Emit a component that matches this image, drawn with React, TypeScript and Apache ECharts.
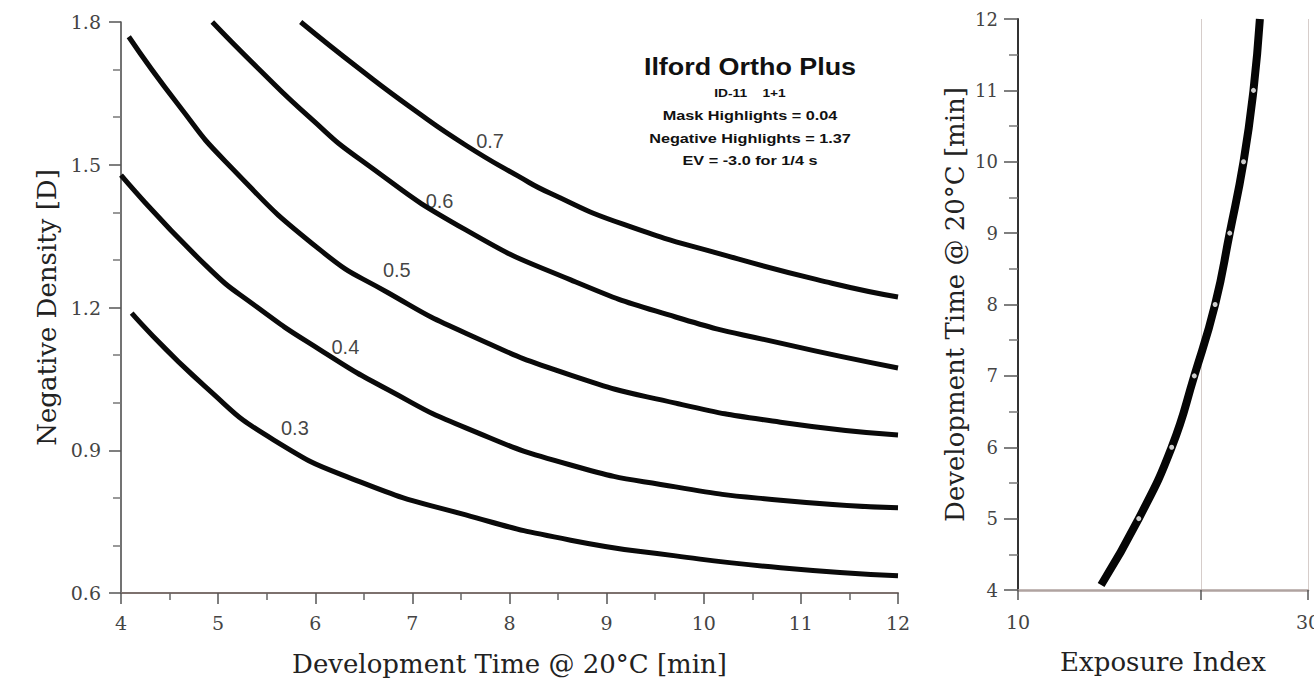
import React, { useEffect, useRef } from "react";
import * as echarts from "echarts";

// ---- Left chart: negative density vs development time, one curve per label ----
const curveNames = ["0.3", "0.4", "0.5", "0.6", "0.7"];
const time03 = [4.11, 4.87, 5.57, 6.47, 7.55, 8.63, 9.71, 10.79, 12.0];
const dens03 = [1.188, 1.033, 0.922, 0.833, 0.764, 0.711, 0.678, 0.653, 0.636];
const time04 = [4.0, 4.87, 5.4, 6.05, 6.75, 7.55, 8.63, 9.71, 10.79, 12.0];
const dens04 = [1.478, 1.289, 1.201, 1.111, 1.027, 0.947, 0.869, 0.823, 0.795, 0.779];
const time05 = [4.08, 4.59, 5.08, 6.05, 6.75, 7.55, 8.63, 9.71, 10.79, 12.0];
const dens05 = [1.769, 1.626, 1.506, 1.321, 1.231, 1.146, 1.058, 0.999, 0.959, 0.932];
const time06 = [4.94, 5.4, 5.94, 6.47, 7.55, 8.63, 9.71, 10.79, 12.0];
const dens06 = [1.8, 1.705, 1.6, 1.51, 1.363, 1.258, 1.18, 1.125, 1.073];
const time07 = [5.85, 6.47, 7.02, 7.55, 8.09, 8.42, 9.17, 10.25, 11.32, 12.0];
const dens07 = [1.8, 1.699, 1.615, 1.541, 1.476, 1.44, 1.375, 1.308, 1.251, 1.222];

// positions of the curve labels (in data units)
const labelTimes = [5.79, 6.31, 6.84, 7.28, 7.8];
const labelDens = [0.947, 1.117, 1.279, 1.424, 1.55];

// ---- Right chart: development time vs exposure index ----
const exposureIndex = [13.7, 15.8, 17.9, 19.5, 21.1, 22.3, 23.5, 24.4, 25.0];
const devTime = [4.07, 5, 6, 7, 8, 9, 10, 11, 12];

const eiTickValues = [10, 20, 30];
const eiLabelValues = [10, 30];

const titleLines = [
  "Ilford Ortho Plus",
  "ID-11    1+1",
  "Mask Highlights = 0.04",
  "Negative Highlights = 1.37",
  "EV = -3.0 for 1/4 s",
];

const SERIF = "'DejaVu Serif', 'Liberation Serif', serif";
const SANS = "'Liberation Sans', Arial, sans-serif";

const zip = (a: number[], b: number[]) => a.map((v, i) => [v, b[i]]);

export default function App() {
  const ref = useRef<HTMLDivElement>(null);
  useEffect(() => {
    if (!ref.current) return;
    const chart = echarts.init(ref.current, null, { renderer: "svg" });
    const curves = [
      zip(time03, dens03),
      zip(time04, dens04),
      zip(time05, dens05),
      zip(time06, dens06),
      zip(time07, dens07),
    ];
    const tickLabel = { fontFamily: SERIF, fontSize: 19, color: "#444" };
    const nameStyle = { fontFamily: SERIF, fontSize: 26, color: "#222" };

    const option: any = {
      animation: false,
      backgroundColor: "#ffffff",
      grid: [
        { left: 121, top: 22, width: 777, height: 571, containLabel: false, outerBoundsMode: "none" },
        { left: 1018, top: 19, width: 290, height: 571, containLabel: false, outerBoundsMode: "none" },
      ],
      xAxis: [
        {
          gridIndex: 0,
          type: "value",
          min: 4,
          max: 12,
          interval: 1,
          name: "Development Time @ 20°C [min]",
          nameLocation: "middle",
          nameGap: 58,
          nameTextStyle: nameStyle,
          axisLine: { show: true, onZero: false, lineStyle: { color: "#7d716e", width: 2 } },
          axisTick: { show: true, length: 11, lineStyle: { color: "#555", width: 1.5 } },
          minorTick: { show: true, splitNumber: 2, length: 7, lineStyle: { color: "#666", width: 1.5 } },
          axisLabel: { ...tickLabel, margin: 20 },
          splitLine: { show: false },
        },
        {
          gridIndex: 1,
          type: "log",
          logBase: 10,
          min: 10,
          max: 30,
          name: "Exposure Index",
          nameLocation: "middle",
          nameGap: 59,
          nameTextStyle: nameStyle,
          axisLine: { show: true, onZero: false, lineStyle: { color: "#b0a3a0", width: 2.5 } },
          axisTick: { show: true, length: 10, customValues: eiTickValues, lineStyle: { color: "#555", width: 1.5 } },
          axisLabel: { ...tickLabel, margin: 22, customValues: eiLabelValues, formatter: (v: number) => String(Math.round(v)) },
          splitLine: { show: true, lineStyle: { color: "#d6cdca", width: 1 } },
          minorTick: { show: false },
          minorSplitLine: { show: false },
        },
      ],
      yAxis: [
        {
          gridIndex: 0,
          type: "value",
          min: 0.6,
          max: 1.8,
          interval: 0.3,
          name: "Negative Density [D]",
          nameLocation: "middle",
          nameGap: 58,
          nameTextStyle: nameStyle,
          axisLine: { show: true, onZero: false, lineStyle: { color: "#444", width: 1.5 } },
          axisTick: { show: true, length: 12, lineStyle: { color: "#555", width: 1.5 } },
          minorTick: { show: true, splitNumber: 3, length: 8, lineStyle: { color: "#777", width: 1.5 } },
          axisLabel: { ...tickLabel, margin: 20, formatter: (v: number) => v.toFixed(1) },
          splitLine: { show: false },
        },
        {
          gridIndex: 1,
          type: "value",
          min: 4,
          max: 12,
          interval: 1,
          name: "Development Time @ 20°C [min]",
          nameLocation: "middle",
          nameGap: 50,
          nameTextStyle: nameStyle,
          axisLine: { show: true, onZero: false, lineStyle: { color: "#333", width: 2 } },
          axisTick: { show: true, length: 14, lineStyle: { color: "#555", width: 1.5 } },
          minorTick: { show: true, splitNumber: 2, length: 9, lineStyle: { color: "#777", width: 1.5 } },
          axisLabel: { ...tickLabel, fontSize: 18, margin: 20 },
          splitLine: { show: false },
        },
      ],
      series: [
        ...curves.map((data, i) => ({
          type: "line",
          name: curveNames[i],
          xAxisIndex: 0,
          yAxisIndex: 0,
          data,
          smooth: 0.55,
          showSymbol: false,
          lineStyle: { color: "#0a0a0a", width: 5 },
          z: 3,
        })),
        {
          type: "scatter",
          name: "curve labels",
          xAxisIndex: 0,
          yAxisIndex: 0,
          symbolSize: 0,
          data: labelTimes.map((t, i) => ({ name: curveNames[i], value: [t, labelDens[i]] })),
          label: {
            show: true,
            position: "inside",
            formatter: (p: any) => p.name,
            fontFamily: SANS,
            fontSize: 20,
            color: "#111",
          },
          z: 4,
        },
        {
          type: "line",
          name: "Exposure Index",
          xAxisIndex: 1,
          yAxisIndex: 1,
          data: zip(exposureIndex, devTime),
          smooth: 0.5,
          showSymbol: false,
          lineStyle: { color: "#050505", width: 8 },
          z: 3,
        },
        {
          type: "scatter",
          name: "EI points",
          xAxisIndex: 1,
          yAxisIndex: 1,
          symbol: "circle",
          symbolSize: 5,
          itemStyle: { color: "#ffffff" },
          data: zip(exposureIndex, devTime).filter((p) => Number.isInteger(p[1]) && p[1] > 4 && p[1] < 12),
          z: 5,
        },
      ],
      graphic: titleLines.map((t, i) => ({
        type: "text",
        x: 750,
        y: [67, 93, 116, 139, 161][i],
        scaleX: i === 0 ? 1.17 : 1.25,
        style: {
          text: t,
          font: i === 0 ? `bold 23px ${SANS}` : `bold ${i === 1 ? 11 : 13}px ${SANS}`,
          fill: "#111",
          align: "center",
          verticalAlign: "middle",
          textAlign: "center",
          textVerticalAlign: "middle",
        },
      })),
    };
    chart.setOption(option);
    return () => chart.dispose();
  }, []);
  return (
    <div
      ref={ref}
      style={{ position: "fixed", left: 0, top: 0, width: 1314, height: 689, background: "#fff" }}
    />
  );
}
